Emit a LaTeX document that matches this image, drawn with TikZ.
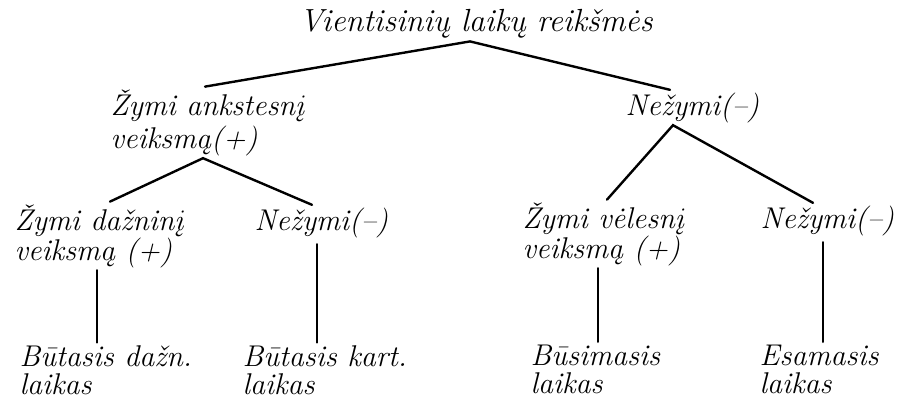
\documentclass[tikz,border=0pt]{standalone}
\usetikzlibrary{calc}
\begin{document}
\begin{tikzpicture}[x=0.75pt,y=-0.75pt,
  lab/.style={inner sep=0pt,outer sep=2pt,anchor=base west,align=left,
    font=\fontsize{22.5}{24.75}\selectfont\itshape},
  labm/.style={lab,font=\fontsize{22.5}{22.5}\selectfont\itshape},
  labb/.style={lab,font=\fontsize{22.5}{21}\selectfont\itshape},
  edge/.style={line width=1.8pt,line cap=round}]
\useasboundingbox (0,0) rectangle (899,403);
% nodes (anchor = baseline of last line)
\node[lab,font=\fontsize{24}{24.75}\selectfont\itshape] (t) at (297,32) {Vientisinių\ laikų reikšmės};
\node[lab] (a) at (108,148) {Žymi ankstesnį\\veiksmą(+)};
\node[lab] (b) at (623,115) {Nežymi(--)};
\node[labm] (c) at (12,260) {Žymi dažninį\\veiksmą (+)};
\node[labm] (d) at (252,230) {Nežymi(--)};
\node[labm] (e) at (520,258) {Žymi vėlesnį\\veiksmą (+)};
\node[labm] (f) at (758,228) {Nežymi(--)};
\node[labb] (g) at (17,394) {Būtasis dažn.\\laikas};
\node[labb] (h) at (240,394) {Būtasis kart.\\laikas};
\node[labb] (i) at (528,393) {Būsimasis\\laikas};
\node[labb] (j) at (757,393) {Esamasis\\laikas};
% top level
\draw[edge] ($(a.north west)+(97,0)$) -- ($(t.south west)+(173,0)$) -- ($(b.north west)+(47,0)$);
% left branch
\draw[edge] ($(c.north west)+(98,0)$) -- ($(a.south west)+(95,0)$) -- ($(d.north west)+(60,0)$);
% right branch
\draw[edge] ($(e.north west)+(87,0)$) -- ($(b.south west)+(50,0)$) -- ($(f.north west)+(55,0)$);
% verticals
\draw[edge] ($(c.south west)+(85,0)$) coordinate (c1) -- (c1 |- g.north);
\draw[edge] ($(d.south west)+(65,4)$) coordinate (d1) -- (d1 |- h.north);
\draw[edge] ($(e.south west)+(78,0)$) coordinate (e1) -- (e1 |- i.north);
\draw[edge] ($(f.south west)+(65,4)$) coordinate (f1) -- (f1 |- j.north);
\end{tikzpicture}
\end{document}
